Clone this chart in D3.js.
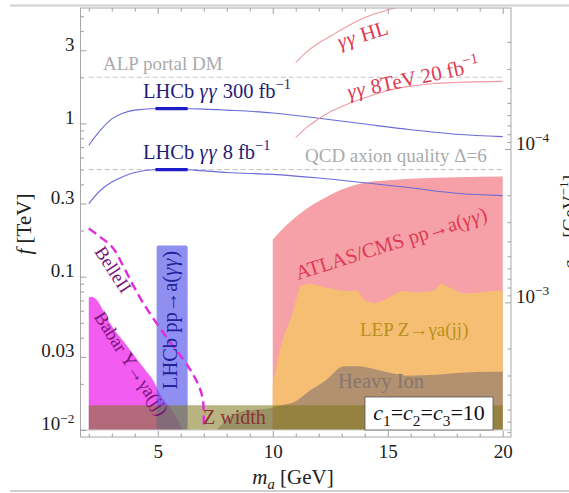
<!DOCTYPE html>
<html>
<head>
<meta charset="utf-8">
<script src="https://cdn.jsdelivr.net/npm/d3@7"></script>
<style>
  body { margin: 0; background: #fff; }
  text { font-family: "Liberation Serif", "Times New Roman", serif; }
</style>
</head>
<body>
<svg id="chart" width="569" height="493"></svg>
<script>
// ---- axes ----
const massTicks = [5, 10, 15, 20];
const massMinor = [2, 3, 4, 6, 7, 8, 9, 11, 12, 13, 14, 16, 17, 18, 19];
const fTicks = [0.01, 0.03, 0.1, 0.3, 1, 3];
const fTickLabels = [["10", "−2"], ["0.03"], ["0.1"], ["0.3"], ["1"], ["3"]];
const fMinor = [0.02, 0.04, 0.05, 0.06, 0.07, 0.08, 0.09, 0.2, 0.4, 0.5, 0.6, 0.7, 0.8, 0.9, 2, 4, 5];
const gTicks = [1e-4, 1e-3];
const gTickLabels = [["10", "−4"], ["10", "−3"]];
const gMinor = [2e-5, 3e-5, 4e-5, 5e-5, 6e-5, 7e-5, 8e-5, 9e-5, 2e-4, 3e-4, 4e-4, 5e-4, 6e-4, 7e-4, 8e-4, 9e-4, 2e-3, 3e-3, 4e-3, 5e-3, 6e-3, 7e-3];
const gPerInvF = 6.8e-5;   // g = gPerInvF / f

// ---- LHCb diphoton reach ----
const lhcbM = [2, 2.5, 3, 3.5, 4, 5, 6, 7, 8, 10, 12, 14, 16, 18, 20];
const lhcb300F = [0.72, 0.90, 1.07, 1.17, 1.22, 1.25, 1.25, 1.24, 1.22, 1.17, 1.08, 0.99, 0.91, 0.85, 0.82];
const lhcb8F = [0.30, 0.365, 0.415, 0.45, 0.478, 0.50, 0.50, 0.49, 0.478, 0.465, 0.44, 0.41, 0.38, 0.35, 0.338];
const lhcbBoldM = [4.9, 6.3];
const lhcbBold300F = [1.25, 1.25];
const lhcbBold8F = [0.50, 0.50];

// ---- ATLAS/CMS diphoton ----
const hlM = [11, 11.5, 12, 12.5, 13, 14, 15, 15.8];
const hlF = [2.5, 2.95, 3.35, 3.7, 4.1, 4.9, 5.5, 5.9];
const tev8M = [11, 11.5, 12, 12.5, 13, 14, 15, 16, 17, 18, 20];
const tev8F = [0.81, 0.95, 1.07, 1.19, 1.29, 1.47, 1.64, 1.75, 1.82, 1.85, 1.88];

// ---- reference lines ----
const refM = [2, 20];
const alpPortalF = 2;
const qcdQualityF = 0.5;
const floorF = 0.01;

// ---- excluded regions ----
const atlasM = [10, 10.5, 11, 11.5, 12, 13, 14, 15, 16, 18, 20];
const atlasF = [0.175, 0.21, 0.245, 0.28, 0.31, 0.37, 0.41, 0.425, 0.435, 0.445, 0.45];
const lepM = [10, 10.3, 10.5, 10.8, 11.0, 11.2, 11.6, 12.3, 13, 13.7, 14, 14.4, 14.8, 15.6, 16.3, 17, 17.3, 17.7, 18.2, 18.7, 19.6, 20];
const lepF = [0.02, 0.033, 0.042, 0.054, 0.07, 0.087, 0.09, 0.085, 0.081, 0.081, 0.07, 0.067, 0.07, 0.081, 0.079, 0.081, 0.09, 0.085, 0.078, 0.078, 0.081, 0.081];
const heavyIonM = [7.6, 8.5, 10, 10.3, 11, 11.6, 12.3, 13.1, 13.7, 14.4, 15.1, 15.8, 17.3, 18.2, 19.6, 20];
const heavyIonF = [0.0102, 0.013, 0.014, 0.0144, 0.0154, 0.018, 0.021, 0.026, 0.026, 0.025, 0.0236, 0.0226, 0.023, 0.0236, 0.024, 0.024];
const babarM = [2, 2.1, 2.4, 2.5, 2.95, 3.5, 3.95, 4.4, 4.8, 5.1, 5.7, 6.1];
const babarF = [0.073, 0.074, 0.069, 0.065, 0.049, 0.038, 0.031, 0.0253, 0.021, 0.0172, 0.0128, 0.01];
const lhcbPPM = [4.95, 6.3];
const lhcbPPF = [0.01, 0.16];
const zWidthM = [2, 20];
const zWidthF = [0.01, 0.0145];
const belleM = [2, 2.49, 3.05, 3.49, 3.92, 4.36, 4.97, 5.53, 6.1, 6.53, 6.84, 6.97, 7.0, 7.0];
const belleF = [0.206, 0.182, 0.154, 0.118, 0.0885, 0.0675, 0.0492, 0.0375, 0.029, 0.0231, 0.0185, 0.0154, 0.0122, 0.01];

// ---- layout ----
const frame = { left: 80.5, right: 511, top: 8, bottom: 437 };
const svg = d3.select("#chart");

const x = d3.scaleLinear().domain([1.64, 20.36]).range([frame.left, frame.right]);
const y = d3.scaleLog().domain([0.009, 5.66]).range([frame.bottom, frame.top]);
const g = d3.scaleLog().domain([gPerInvF / 0.009, gPerInvF / 5.66]).range([frame.bottom, frame.top]);

const zip = (ms, fs) => ms.map((m, i) => [m, fs[i]]);

// rich text with italic / super / subscript runs
function rich(parent, parts, fs) {
  const t = parent.append("text").attr("font-size", fs);
  let shift = 0;
  parts.forEach(p => {
    const s = t.append("tspan").text(p.t);
    let target = 0, size = fs;
    if (p.sup) { target = -fs * 0.42; size = fs * 0.7; }
    if (p.sub) { target = fs * 0.25; size = fs * 0.7; }
    s.attr("dy", target - shift).attr("font-size", size);
    if (p.i) s.attr("font-style", "italic");
    if (p.ls) s.attr("letter-spacing", p.ls);
    shift = target;
  });
  return t;
}

// page rules
svg.append("line").attr("x1", 10).attr("x2", 569).attr("y1", 5.5).attr("y2", 5.5)
  .attr("stroke", "#cfcfcf").attr("stroke-width", 2);
svg.append("line").attr("x1", 10).attr("x2", 569).attr("y1", 491).attr("y2", 491)
  .attr("stroke", "#cfcfcf").attr("stroke-width", 2);

svg.append("clipPath").attr("id", "plotClip").append("rect")
  .attr("x", frame.left).attr("y", frame.top)
  .attr("width", frame.right - frame.left).attr("height", frame.bottom - frame.top);

const plot = svg.append("g").attr("clip-path", "url(#plotClip)");

// ---- filled regions ----
const areaFrom = (curve) => d3.area().x(d => x(d[0])).y0(y(floorF)).y1(d => y(d[1])).curve(curve);

plot.append("path").datum(zip(atlasM, atlasF))
  .attr("d", areaFrom(d3.curveMonotoneX)).attr("fill", "#f5a1a7");
plot.append("path").datum(zip(lepM, lepF))
  .attr("d", areaFrom(d3.curveLinear)).attr("fill", "#f6be72");
plot.append("path").datum(zip(heavyIonM, heavyIonF))
  .attr("d", areaFrom(d3.curveMonotoneX)).attr("fill", "rgba(95,92,112,0.45)");
plot.append("path").datum(zip(babarM, babarF))
  .attr("d", areaFrom(d3.curveMonotoneX)).attr("fill", "#f25cf0");
plot.append("rect")
  .attr("x", x(lhcbPPM[0])).attr("width", x(lhcbPPM[1]) - x(lhcbPPM[0]))
  .attr("y", y(lhcbPPF[1])).attr("height", y(lhcbPPF[0]) - y(lhcbPPF[1]))
  .attr("rx", 2).attr("fill", "rgba(95,95,235,0.7)");
plot.append("rect")
  .attr("x", x(zWidthM[0])).attr("width", x(zWidthM[1]) - x(zWidthM[0]))
  .attr("y", y(zWidthF[1])).attr("height", y(zWidthF[0]) - y(zWidthF[1]))
  .attr("fill", "rgba(125,118,25,0.55)");

// floor line at f = 0.01
plot.append("line").attr("x1", frame.left).attr("x2", frame.right)
  .attr("y1", y(floorF)).attr("y2", y(floorF)).attr("stroke", "#c8c8c8").attr("stroke-width", 1);

// ---- lines ----
const line = (curve) => d3.line().x(d => x(d[0])).y(d => y(d[1])).curve(curve);

[alpPortalF, qcdQualityF].forEach(f => {
  plot.append("path").datum(refM.map(m => [m, f]))
    .attr("d", line(d3.curveLinear)).attr("fill", "none")
    .attr("stroke", "#c4c4c4").attr("stroke-width", 1).attr("stroke-dasharray", "5,3");
});

plot.append("path").datum(zip(lhcbM, lhcb300F)).attr("d", line(d3.curveMonotoneX))
  .attr("fill", "none").attr("stroke", "#6a6ad8").attr("stroke-width", 1.1);
plot.append("path").datum(zip(lhcbM, lhcb8F)).attr("d", line(d3.curveMonotoneX))
  .attr("fill", "none").attr("stroke", "#6a6ad8").attr("stroke-width", 1.1);
plot.append("path").datum(zip(lhcbBoldM, lhcbBold300F)).attr("d", line(d3.curveLinear))
  .attr("fill", "none").attr("stroke", "#1c1cc8").attr("stroke-width", 3.2);
plot.append("path").datum(zip(lhcbBoldM, lhcbBold8F)).attr("d", line(d3.curveLinear))
  .attr("fill", "none").attr("stroke", "#1c1cc8").attr("stroke-width", 3.2);

plot.append("path").datum(zip(hlM, hlF)).attr("d", line(d3.curveMonotoneX))
  .attr("fill", "none").attr("stroke", "#ee9aa2").attr("stroke-width", 1.1);
plot.append("path").datum(zip(tev8M, tev8F)).attr("d", line(d3.curveMonotoneX))
  .attr("fill", "none").attr("stroke", "#ee9aa2").attr("stroke-width", 1.1);

plot.append("path").datum(zip(belleM, belleF)).attr("d", line(d3.curveCatmullRom.alpha(0.5)))
  .attr("fill", "none").attr("stroke", "#e02ce0").attr("stroke-width", 2.4)
  .attr("stroke-dasharray", "9,5");

// ---- frame & axes ----
svg.append("rect").attr("x", frame.left).attr("y", frame.top)
  .attr("width", frame.right - frame.left).attr("height", frame.bottom - frame.top)
  .attr("fill", "none").attr("stroke", "#a8a8a8").attr("stroke-width", 1);

function styleAxis(sel) {
  sel.select(".domain").remove();
  sel.selectAll(".tick line").attr("stroke", "#a0a0a0");
  sel.selectAll("text").attr("fill", "#222").attr("font-size", 19)
    .attr("font-family", "Liberation Serif, serif");
}

// bottom
svg.append("g").attr("transform", `translate(0,${frame.bottom})`)
  .call(d3.axisBottom(x).tickValues(massTicks).tickSizeInner(-6).tickSizeOuter(0).tickPadding(7.5))
  .call(styleAxis);
svg.append("g").attr("transform", `translate(0,${frame.bottom})`)
  .call(d3.axisBottom(x).tickValues(massMinor).tickSizeInner(-3.5).tickSizeOuter(0).tickFormat(""))
  .call(styleAxis);
// top
svg.append("g").attr("transform", `translate(0,${frame.top})`)
  .call(d3.axisTop(x).tickValues(massTicks).tickSizeInner(-6).tickSizeOuter(0).tickFormat(""))
  .call(styleAxis);
svg.append("g").attr("transform", `translate(0,${frame.top})`)
  .call(d3.axisTop(x).tickValues(massMinor).tickSizeInner(-3.5).tickSizeOuter(0).tickFormat(""))
  .call(styleAxis);
// left
const leftAx = svg.append("g").attr("transform", `translate(${frame.left},0)`)
  .call(d3.axisLeft(y).tickValues(fTicks).tickSizeInner(-6).tickSizeOuter(0).tickPadding(6).tickFormat(""))
  .call(styleAxis);
svg.append("g").attr("transform", `translate(${frame.left},0)`)
  .call(d3.axisLeft(y).tickValues(fMinor).tickSizeInner(-3.5).tickSizeOuter(0).tickFormat(""))
  .call(styleAxis);
leftAx.selectAll(".tick").each(function (d, i) {
  const lab = fTickLabels[fTicks.indexOf(d)];
  const parts = lab.length > 1 ? [{ t: lab[0] }, { t: lab[1], sup: true }] : [{ t: lab[0] }];
  rich(d3.select(this), parts, 19).attr("x", -6).attr("dy", "0.32em")
    .attr("text-anchor", "end").attr("fill", "#222");
});
// right (coupling)
const rightAx = svg.append("g").attr("transform", `translate(${frame.right},0)`)
  .call(d3.axisRight(g).tickValues(gTicks).tickSizeInner(-6).tickSizeOuter(0).tickFormat(""))
  .call(styleAxis);
svg.append("g").attr("transform", `translate(${frame.right},0)`)
  .call(d3.axisRight(g).tickValues(gMinor).tickSizeInner(-3.5).tickSizeOuter(0).tickFormat(""))
  .call(styleAxis);
rightAx.selectAll(".tick").each(function (d) {
  const lab = gTickLabels[gTicks.indexOf(d)];
  rich(d3.select(this), [{ t: lab[0] }, { t: lab[1], sup: true }], 19)
    .attr("x", 5).attr("dy", "0.32em").attr("fill", "#222");
});

// axis titles
rich(svg, [{ t: "f", i: true }, { t: " [TeV]" }], 21)
  .attr("transform", "translate(31,224) rotate(-90)").attr("text-anchor", "middle").attr("fill", "#222");
rich(svg, [{ t: "m", i: true }, { t: "a", i: true, sub: true }, { t: " [GeV]" }], 21)
  .attr("x", 293).attr("y", 484).attr("text-anchor", "middle").attr("fill", "#222");
rich(svg, [{ t: "g", i: true }, { t: "aγγ", sub: true }, { t: " [GeV" }, { t: "−1", sup: true }, { t: "]" }], 19)
  .attr("transform", "translate(576,175) rotate(-90)").attr("text-anchor", "end").attr("fill", "#222");

// ---- region and curve labels ----
rich(svg, [{ t: "ALP portal DM" }], 19).attr("x", 103).attr("y", 70).attr("fill", "#ababab");
rich(svg, [{ t: "QCD axion quality Δ=6" }], 19).attr("x", 305).attr("y", 162).attr("fill", "#ababab");
rich(svg, [{ t: "LHCb " }, { t: "γγ", i: true, ls: 1 }, { t: " 300 fb" }, { t: "−1", sup: true }], 20.5)
  .attr("x", 143).attr("y", 98).attr("fill", "#1e1e78");
rich(svg, [{ t: "LHCb " }, { t: "γγ", i: true, ls: 1 }, { t: " 8 fb" }, { t: "−1", sup: true }], 20.5)
  .attr("x", 143).attr("y", 159).attr("fill", "#1e1e78");
rich(svg, [{ t: "γγ", i: true, ls: 1 }, { t: " HL" }], 21)
  .attr("transform", "translate(340,49) rotate(-17)").attr("fill", "#e03a52");
rich(svg, [{ t: "γγ", i: true, ls: 1 }, { t: " 8TeV 20 fb" }, { t: "−1", sup: true }], 21)
  .attr("transform", "translate(349,99) rotate(-12)").attr("fill", "#e03a52");
rich(svg, [{ t: "ATLAS/CMS pp→a(" }, { t: "γγ", i: true, ls: 1 }, { t: ")" }], 20.5)
  .attr("transform", "translate(298,280) rotate(-17.5)").attr("fill", "#e03a52");
rich(svg, [{ t: "LEP Z→γa(jj)" }], 19).attr("x", 360).attr("y", 336).attr("fill", "#b8901c");
rich(svg, [{ t: "Heavy Ion" }], 20.5).attr("x", 338).attr("y", 388).attr("fill", "#85766e");
rich(svg, [{ t: "Z width" }], 20).attr("x", 203).attr("y", 424).attr("fill", "#8c3434");
rich(svg, [{ t: "BelleII" }], 18.5)
  .attr("transform", "translate(108,273) rotate(57)").attr("text-anchor", "middle")
  .attr("dy", "0.35em").attr("fill", "#7a147a");
rich(svg, [{ t: "Babar Υ→γa(jj)" }], 18.5)
  .attr("transform", "translate(126,367) rotate(57)").attr("text-anchor", "middle")
  .attr("dy", "0.35em").attr("fill", "#7a147a");
rich(svg, [{ t: "LHCb pp→a(" }, { t: "γγ", i: true, ls: 1 }, { t: ")" }], 20.5)
  .attr("transform", "translate(177,320) rotate(-90)").attr("text-anchor", "middle").attr("fill", "#22229a");

// coupling benchmark box
svg.append("rect").attr("x", 365).attr("y", 397).attr("width", 128).attr("height", 33)
  .attr("fill", "#fff").attr("stroke", "#555").attr("stroke-width", 0.8);
rich(svg, [{ t: "c", i: true }, { t: "1", sub: true }, { t: "=" }, { t: "c", i: true }, { t: "2", sub: true },
           { t: "=" }, { t: "c", i: true }, { t: "3", sub: true }, { t: "=10" }], 22)
  .attr("x", 429).attr("y", 420).attr("text-anchor", "middle").attr("fill", "#111");
</script>
</body>
</html>
